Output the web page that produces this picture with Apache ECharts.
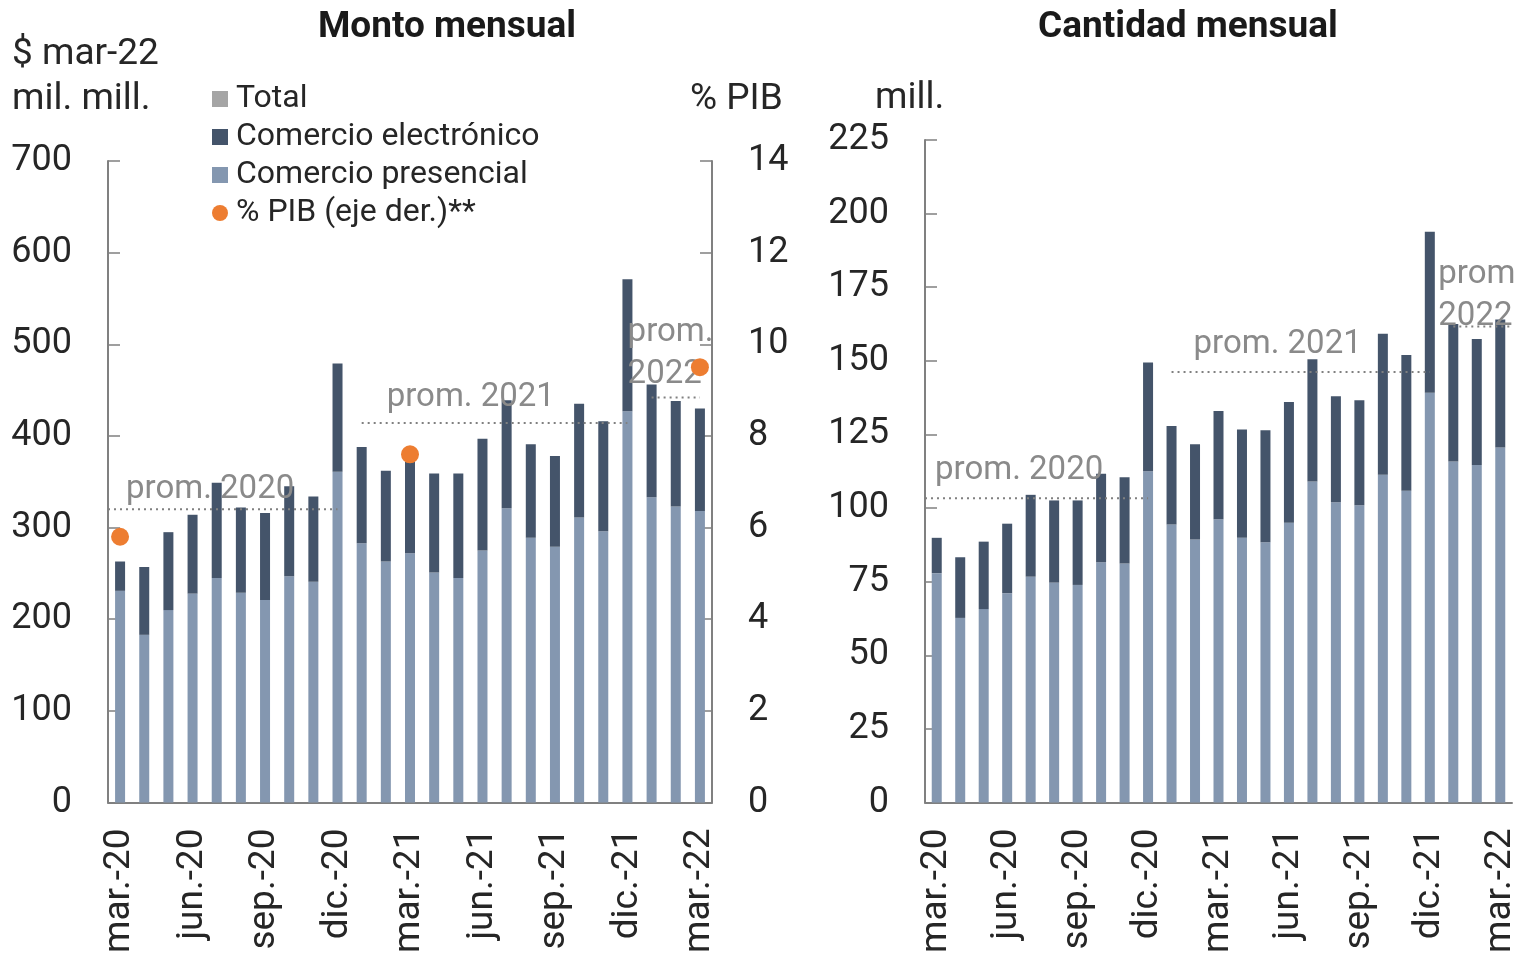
<!DOCTYPE html>
<html lang="es">
<head>
    <meta charset="UTF-8">
    <title>Monto y cantidad mensual</title>
    <script src="https://cdn.jsdelivr.net/npm/echarts@6.0.0/dist/echarts.min.js"></script>
    <style>
        html, body {
            margin: 0;
            border: 0;
            background: #fff;
        }

        #chart {
            width: 1520px;
            height: 956px;
        }
    </style>
</head>
<body>
<div id="chart"></div>
<script type="text/javascript">
    const months = [
        'mar.-20', 'abr.-20', 'may.-20', 'jun.-20', 'jul.-20', 'ago.-20', 'sep.-20', 'oct.-20', 'nov.-20', 'dic.-20',
        'ene.-21', 'feb.-21', 'mar.-21', 'abr.-21', 'may.-21', 'jun.-21', 'jul.-21', 'ago.-21', 'sep.-21', 'oct.-21',
        'nov.-21', 'dic.-21', 'ene.-22', 'feb.-22', 'mar.-22'
    ];

    // monto: $ mar-22, mil. mill.
    const montoPresencial = [231, 183, 210, 228, 245, 229, 221, 247, 241, 361, 283, 263, 272, 251, 245, 275, 321, 289, 279, 311, 296, 427, 333, 323, 318];
    const montoElectronico = [32, 74, 85, 86, 104, 93, 95, 98, 93, 118, 105, 99, 100, 108, 114, 122, 118, 102, 99, 124, 120, 144, 123, 115, 112];

    // % PIB (eje der.)
    const pibMonths = ['mar.-20', 'mar.-21', 'mar.-22'];
    const pibValues = [5.8, 7.6, 9.5];

    // cantidad: mill.
    const cantPresencial = [77.9, 62.7, 65.7, 71.1, 76.7, 74.7, 73.9, 81.6, 81.2, 112.5, 94.4, 89.3, 96.2, 89.9, 88.4, 95.0, 109.0, 102.0, 101.0, 111.3, 105.9, 139.2, 115.8, 114.6, 120.6];
    const cantElectronico = [12.0, 20.6, 22.9, 23.6, 27.8, 27.9, 28.7, 30.1, 29.3, 36.9, 33.5, 32.4, 36.8, 36.8, 38.0, 41.0, 41.5, 36.0, 35.6, 47.9, 46.1, 54.6, 46.7, 42.8, 43.4];

    // yearly averages: [from index, to index, value, label]
    const montoProm = [[-0.5, 9, 320, 'prom. 2020'], [10, 21, 414, 'prom. 2021'], [22, 24, 442, 'prom.\n2022']];
    const cantProm = [[-0.5, 9, 103.3, 'prom. 2020'], [10, 21, 146.2, 'prom. 2021'], [22, 24.5, 161.7, 'prom\n2022']];

    const C_PRES = '#8497b0';
    const C_ELEC = '#44546a';
    const C_TOTAL = '#a5a5a5';
    const C_PIB = '#ed7d31';
    const C_AXIS = '#808080';
    const C_TEXT = '#262626';
    const FONT = 'Roboto';

    const montoLabelOffsets = [[18, -20], [25, -25], [-24, -44]];
    const cantLabelOffsets = [[10, -28], [22, -27], [-15, -31]];

    function promSeries(list, xAxisIndex, yAxisIndex, offsets) {
        return list.map((p, i) => ({
            type: 'line',
            xAxisIndex: xAxisIndex,
            yAxisIndex: yAxisIndex,
            silent: true,
            symbol: 'circle',
            symbolSize: 0,
            showSymbol: true,
            z: 5,
            lineStyle: {color: C_AXIS, width: 2, type: [2, 4]},
            data: [
                {
                    value: [p[0], p[2]],
                    label: {
                        show: true,
                        position: 'right',
                        distance: 0,
                        offset: offsets[i],
                        formatter: p[3],
                        color: '#8a8a8a',
                        fontFamily: FONT,
                        fontSize: 33,
                        lineHeight: 42,
                        align: 'left'
                    }
                },
                {value: [p[1], p[2]]}
            ]
        }));
    }

    function categoryAxis(gridIndex) {
        return {
            type: 'category',
            gridIndex: gridIndex,
            data: months,
            axisLine: {lineStyle: {color: C_AXIS, width: 2}},
            axisTick: {inside: true, interval: 2, length: 8, lineStyle: {color: C_AXIS, width: 1.5}},
            axisLabel: {
                interval: 2,
                rotate: 90,
                margin: 26,
                color: C_TEXT,
                fontFamily: FONT,
                fontSize: 37
            }
        };
    }

    function hiddenValueAxis(gridIndex) {
        return {type: 'value', gridIndex: gridIndex, min: -0.5, max: 24.5, show: false};
    }

    function valueAxis(gridIndex, max, interval, position) {
        return {
            type: 'value',
            gridIndex: gridIndex,
            position: position,
            min: 0,
            max: max,
            interval: interval,
            splitLine: {show: false},
            axisLine: {show: true, onZero: false, lineStyle: {color: C_AXIS, width: 2}},
            axisTick: {show: true, inside: true, length: 12, lineStyle: {color: C_AXIS, width: 1.5}},
            axisLabel: {
                margin: 36,
                color: C_TEXT,
                fontFamily: FONT,
                fontSize: 36
            }
        };
    }

    window.onload = () => {
        const chart = echarts.init(document.querySelector('#chart'), null, {renderer: 'canvas'});

        const option = {
            animation: false,
            backgroundColor: '#fff',
            grid: [
                {left: 108, right: 808, top: 161, bottom: 153},
                {left: 925, right: 8, top: 140, bottom: 151}
            ],
            xAxis: [categoryAxis(0), categoryAxis(1), hiddenValueAxis(0), hiddenValueAxis(1)],
            yAxis: [
                valueAxis(0, 700, 100, 'left'),
                valueAxis(0, 14, 2, 'right'),
                valueAxis(1, 225, 25, 'left')
            ],
            legend: {
                orient: 'vertical',
                left: 207,
                top: 78,
                itemWidth: 16,
                itemHeight: 16,
                itemGap: 6,
                selectedMode: false,
                textStyle: {color: C_TEXT, fontFamily: FONT, fontSize: 32, lineHeight: 31, padding: [0, 0, 0, 3]},
                data: [
                    {name: 'Total', icon: 'rect'},
                    {name: 'Comercio electrónico', icon: 'rect'},
                    {name: 'Comercio presencial', icon: 'rect'},
                    {name: '% PIB (eje der.)**', icon: 'circle', itemStyle: {color: C_PIB, opacity: 1}}
                ]
            },
            graphic: [
                {type: 'text', x: 447, y: 28, style: {text: 'Monto mensual', font: 'bold 37px Roboto', fill: '#1a1a1a', align: 'center', verticalAlign: 'middle'}},
                {type: 'text', x: 1188, y: 28, style: {text: 'Cantidad mensual', font: 'bold 37px Roboto', fill: '#1a1a1a', align: 'center', verticalAlign: 'middle'}},
                {type: 'text', x: 12, y: 55, style: {text: '$ mar-22', font: '37px Roboto', fill: C_TEXT, verticalAlign: 'middle'}},
                {type: 'text', x: 12, y: 100, style: {text: 'mil. mill.', font: '37px Roboto', fill: C_TEXT, verticalAlign: 'middle'}},
                {type: 'text', x: 690, y: 100, style: {text: '% PIB', font: '37px Roboto', fill: C_TEXT, verticalAlign: 'middle'}},
                {type: 'text', x: 875, y: 99, style: {text: 'mill.', font: '37px Roboto', fill: C_TEXT, verticalAlign: 'middle'}}
            ],
            series: [
                {
                    name: 'Total',
                    type: 'bar',
                    xAxisIndex: 0,
                    yAxisIndex: 0,
                    itemStyle: {color: C_TOTAL},
                    data: []
                },
                {
                    name: 'Comercio presencial',
                    type: 'bar',
                    stack: 'monto',
                    xAxisIndex: 0,
                    yAxisIndex: 0,
                    barWidth: 10,
                    itemStyle: {color: C_PRES},
                    data: montoPresencial
                },
                {
                    name: 'Comercio electrónico',
                    type: 'bar',
                    stack: 'monto',
                    xAxisIndex: 0,
                    yAxisIndex: 0,
                    barWidth: 10,
                    itemStyle: {color: C_ELEC},
                    data: montoElectronico
                },
                {
                    name: '% PIB (eje der.)**',
                    type: 'scatter',
                    xAxisIndex: 0,
                    yAxisIndex: 1,
                    symbolSize: 18,
                    z: 6,
                    itemStyle: {color: C_PIB, opacity: 1},
                    data: pibMonths.map((m, i) => [m, pibValues[i]])
                },
                {
                    name: 'Comercio presencial',
                    type: 'bar',
                    stack: 'cant',
                    xAxisIndex: 1,
                    yAxisIndex: 2,
                    barWidth: 10,
                    itemStyle: {color: C_PRES},
                    data: cantPresencial
                },
                {
                    name: 'Comercio electrónico',
                    type: 'bar',
                    stack: 'cant',
                    xAxisIndex: 1,
                    yAxisIndex: 2,
                    barWidth: 10,
                    itemStyle: {color: C_ELEC},
                    data: cantElectronico
                },
                ...promSeries(montoProm, 2, 0, montoLabelOffsets),
                ...promSeries(cantProm, 3, 2, cantLabelOffsets)
            ]
        };
        chart.setOption(option, true);
    };
</script>
</body>
</html>
